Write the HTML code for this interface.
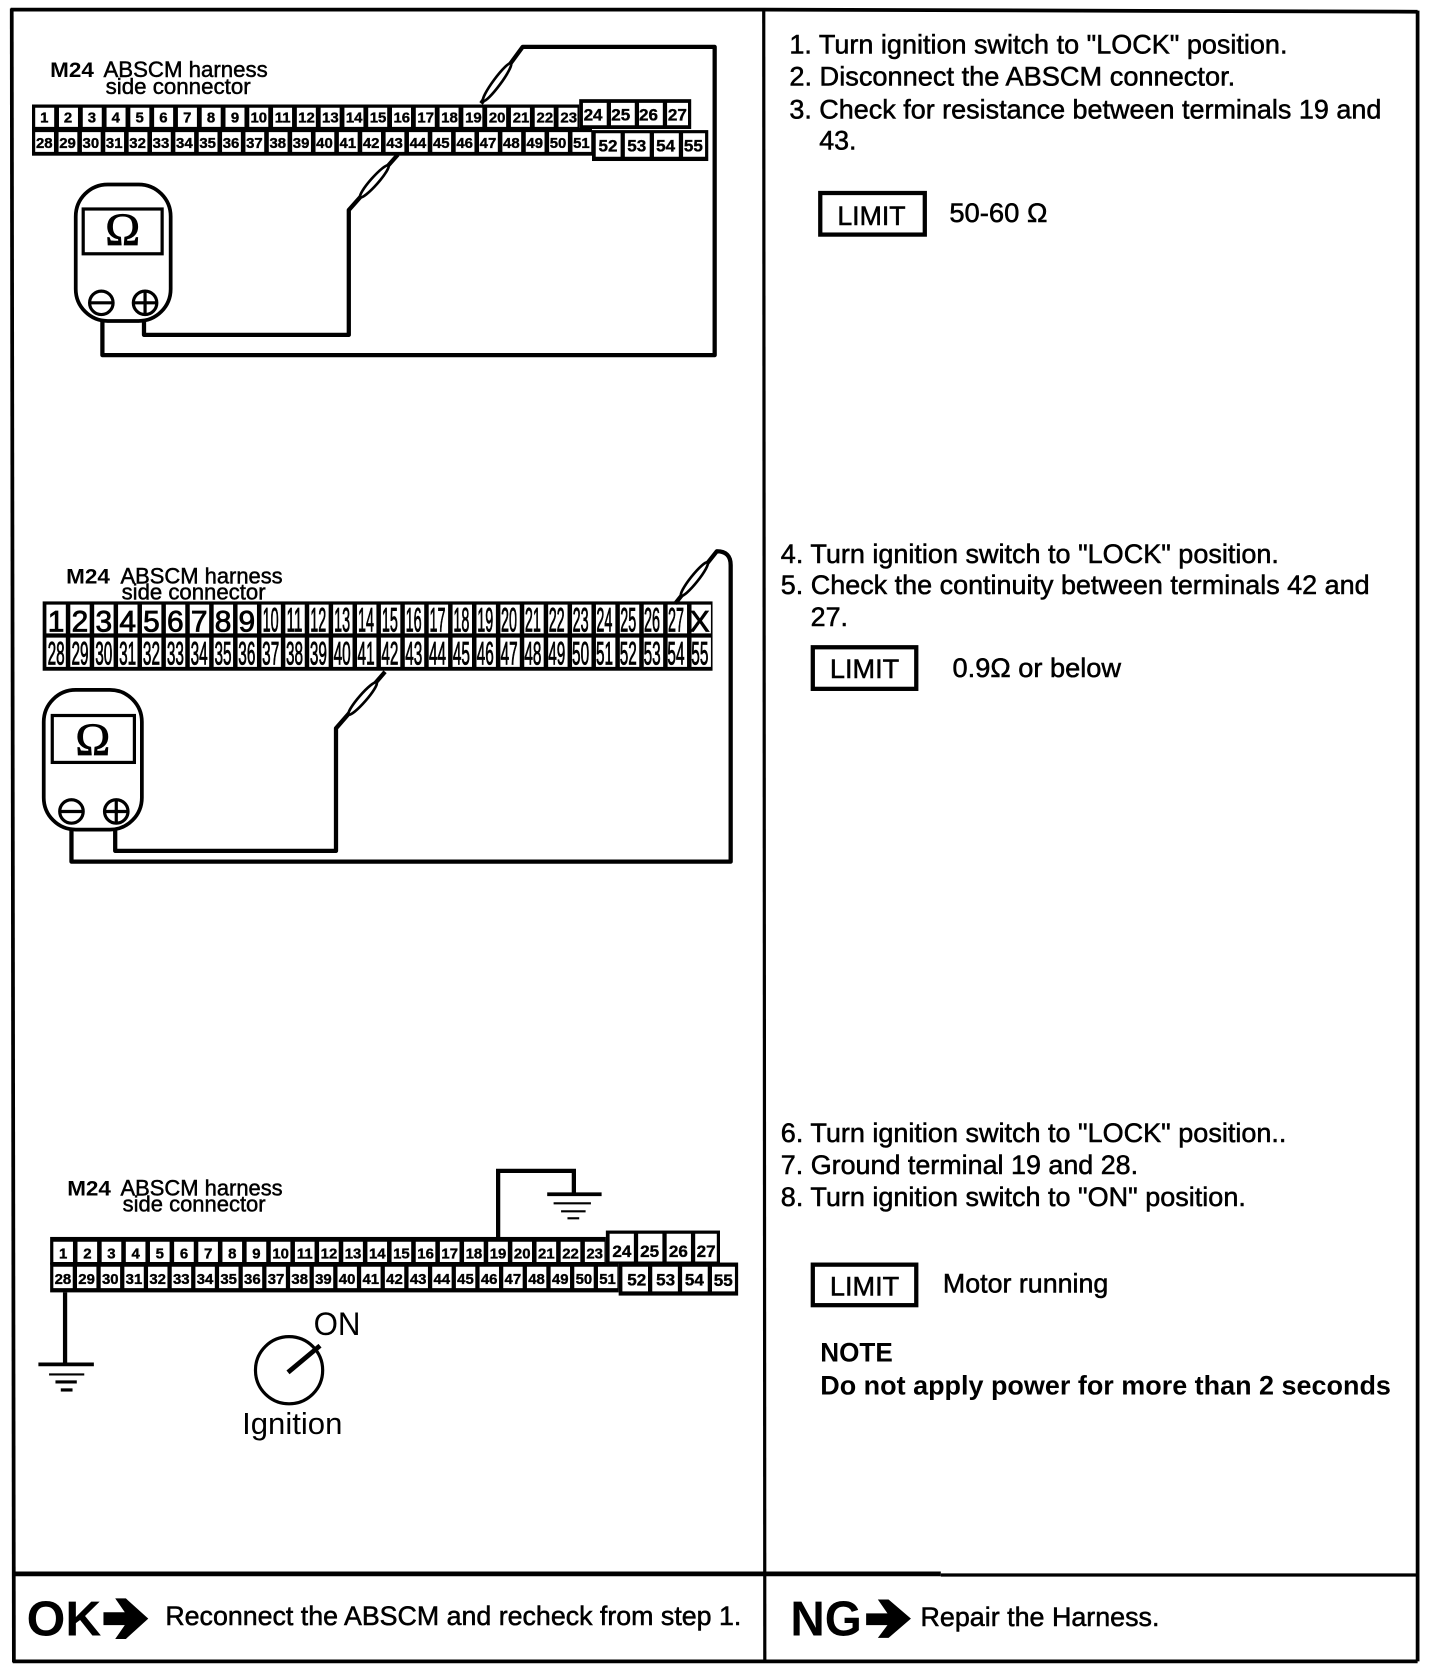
<!DOCTYPE html>
<html><head><meta charset="utf-8"><style>
html,body{margin:0;padding:0;background:#fff}
svg{display:block}
text{font-family:"Liberation Sans",sans-serif;fill:#000}
.a{font-size:14px;font-weight:bold;text-anchor:middle;stroke:#000;stroke-width:.35}
.b{font-size:16px;font-weight:bold;text-anchor:middle;stroke:#000;stroke-width:.35}
.c{font-size:32px;stroke:#000;stroke-width:.8}
.g{font-size:30px;stroke:#000;stroke-width:.8}
.d{font-size:28px;text-anchor:middle;stroke:#000;stroke-width:.8}
.t{font-size:25px;stroke:#000;stroke-width:.5}
.h{font-size:21px;stroke:#000;stroke-width:.45}
.w{fill:none;stroke:#000;stroke-width:4;stroke-linejoin:round}
.l{fill:#fff;stroke:#000;stroke-width:2.5}
.o{font-family:"Liberation Serif",serif;text-anchor:middle;font-size:44px;stroke:#000;stroke-width:.8}
</style></head><body>
<svg width="1440" height="1672" viewBox="0 0 1350 1568" preserveAspectRatio="none" xmlns="http://www.w3.org/2000/svg">
<rect width="1350" height="1568" fill="#fff"/>
<!-- frame -->
<g stroke="#000" fill="none">
<path d="M10 9 L716 9 L1329 11" stroke-width="3.5"/>
<path d="M11 8 L13 1559" stroke-width="3.5"/>
<path d="M1329 10 L1329 1558" stroke-width="3.5"/>
<path d="M716 9 L717 1558" stroke-width="3"/>
<path d="M12 1476 L882 1476" stroke-width="4.5"/>
<path d="M882 1477 L1329 1477" stroke-width="3"/>
<path d="M12 1558 L1329 1558" stroke-width="3.5"/>
</g>

<!-- connector 1 -->
<rect x="30" y="98" width="513" height="24" fill="#000"/>
<rect x="30" y="120" width="525" height="26" fill="#000"/>
<rect x="543" y="93" width="105" height="28" fill="#000"/>
<rect x="555" y="122" width="109" height="29" fill="#000"/>
<g fill="none" stroke="#fff">
<line x1="33" y1="110" x2="543" y2="110" stroke-width="18" stroke-dasharray="17.8 4.5"/>
<line x1="33" y1="133.2" x2="555" y2="133.2" stroke-width="18.5" stroke-dasharray="17.6 4.3"/>
<line x1="546.5" y1="107" x2="645" y2="107" stroke-width="21" stroke-dasharray="22.3 4"/>
<line x1="558.5" y1="136" x2="661" y2="136" stroke-width="22" stroke-dasharray="23.3 4"/>
</g>
<g>
<text x="41.5" y="115" class="a">1</text><text x="63.8" y="115" class="a">2</text><text x="86.2" y="115" class="a">3</text><text x="108.5" y="115" class="a">4</text><text x="130.9" y="115" class="a">5</text><text x="153.2" y="115" class="a">6</text><text x="175.6" y="115" class="a">7</text><text x="197.9" y="115" class="a">8</text><text x="220.3" y="115" class="a">9</text><text x="242.6" y="115" class="a">10</text><text x="265" y="115" class="a">11</text><text x="287.3" y="115" class="a">12</text><text x="309.7" y="115" class="a">13</text><text x="332" y="115" class="a">14</text><text x="354.4" y="115" class="a">15</text><text x="376.7" y="115" class="a">16</text><text x="399.1" y="115" class="a">17</text><text x="421.4" y="115" class="a">18</text><text x="443.8" y="115" class="a">19</text><text x="466.1" y="115" class="a">20</text><text x="488.5" y="115" class="a">21</text><text x="510.8" y="115" class="a">22</text><text x="533.2" y="115" class="a">23</text>
<text x="556" y="113" class="b">24</text><text x="582" y="113" class="b">25</text><text x="608" y="113" class="b">26</text><text x="635" y="113" class="b">27</text>
<text x="41.5" y="139" class="a">28</text><text x="63.3" y="139" class="a">29</text><text x="85.2" y="139" class="a">30</text><text x="107.1" y="139" class="a">31</text><text x="129" y="139" class="a">32</text><text x="150.9" y="139" class="a">33</text><text x="172.8" y="139" class="a">34</text><text x="194.7" y="139" class="a">35</text><text x="216.6" y="139" class="a">36</text><text x="238.5" y="139" class="a">37</text><text x="260.4" y="139" class="a">38</text><text x="282.3" y="139" class="a">39</text><text x="304.2" y="139" class="a">40</text><text x="326.1" y="139" class="a">41</text><text x="348" y="139" class="a">42</text><text x="369.9" y="139" class="a">43</text><text x="391.8" y="139" class="a">44</text><text x="413.7" y="139" class="a">45</text><text x="435.6" y="139" class="a">46</text><text x="457.5" y="139" class="a">47</text><text x="479.4" y="139" class="a">48</text><text x="501.3" y="139" class="a">49</text><text x="523.2" y="139" class="a">50</text><text x="545.1" y="139" class="a">51</text>
<text x="570" y="142" class="b">52</text><text x="597" y="142" class="b">53</text><text x="624" y="142" class="b">54</text><text x="650" y="142" class="b">55</text>
</g>
<text x="47" y="72" font-size="20" font-weight="bold" textLength="41" lengthAdjust="spacingAndGlyphs">M24</text>
<text x="97" y="72" class="h" textLength="154" lengthAdjust="spacingAndGlyphs">ABSCM harness</text>
<text x="99" y="88" class="h" textLength="136" lengthAdjust="spacingAndGlyphs">side connector</text>
<rect x="71" y="173" width="89" height="128" rx="30" fill="#fff" stroke="#000" stroke-width="3.5"/>
<rect x="78" y="196" width="74" height="42" fill="#fff" stroke="#000" stroke-width="3"/>
<text x="115" y="230" class="o">Ω</text>
<g fill="none" stroke="#000" stroke-width="3">
<circle cx="95" cy="284" r="11"/><path d="M85 284H105"/>
<circle cx="136" cy="284" r="11"/><path d="M125 284H147M136 273V295"/>
</g>
<path class="w" d="M135 301 V314 H327 V197 L373 145"/>
<path class="w" d="M96 301 V333 H670 V44 H490 L451 97"/>
<ellipse cx="351" cy="170" rx="20" ry="3.5" transform="rotate(-48.5 351 170)" class="l"/>
<ellipse cx="466" cy="77" rx="22" ry="3.5" transform="rotate(-53.6 466 77)" class="l"/>

<!-- connector 2 -->
<rect x="40" y="564" width="628" height="65" fill="#000"/>
<g fill="none" stroke="#fff">
<line x1="43.5" y1="580.5" x2="667" y2="580.5" stroke-width="27" stroke-dasharray="18.2 4.2"/>
<line x1="43.5" y1="611.7" x2="667" y2="611.7" stroke-width="27.5" stroke-dasharray="18.2 4.2"/>
</g>
<g>
<text x="52.6" y="592" class="d">1</text><text x="75" y="592" class="d">2</text><text x="97.3" y="592" class="d">3</text><text x="119.7" y="592" class="d">4</text><text x="142" y="592" class="d">5</text><text x="164.4" y="592" class="d">6</text><text x="186.7" y="592" class="d">7</text><text x="209.1" y="592" class="d">8</text><text x="231.4" y="592" class="d">9</text>
<text x="246.2" y="592" class="c" textLength="15" lengthAdjust="spacingAndGlyphs">10</text><text x="268.6" y="592" class="c" textLength="15" lengthAdjust="spacingAndGlyphs">11</text><text x="290.9" y="592" class="c" textLength="15" lengthAdjust="spacingAndGlyphs">12</text><text x="313.3" y="592" class="c" textLength="15" lengthAdjust="spacingAndGlyphs">13</text><text x="335.6" y="592" class="c" textLength="15" lengthAdjust="spacingAndGlyphs">14</text><text x="358" y="592" class="c" textLength="15" lengthAdjust="spacingAndGlyphs">15</text><text x="380.3" y="592" class="c" textLength="15" lengthAdjust="spacingAndGlyphs">16</text><text x="402.7" y="592" class="c" textLength="15" lengthAdjust="spacingAndGlyphs">17</text><text x="425" y="592" class="c" textLength="15" lengthAdjust="spacingAndGlyphs">18</text><text x="447.4" y="592" class="c" textLength="15" lengthAdjust="spacingAndGlyphs">19</text><text x="469.7" y="592" class="c" textLength="15" lengthAdjust="spacingAndGlyphs">20</text><text x="492.1" y="592" class="c" textLength="15" lengthAdjust="spacingAndGlyphs">21</text><text x="514.4" y="592" class="c" textLength="15" lengthAdjust="spacingAndGlyphs">22</text><text x="536.8" y="592" class="c" textLength="15" lengthAdjust="spacingAndGlyphs">23</text><text x="559.1" y="592" class="c" textLength="15" lengthAdjust="spacingAndGlyphs">24</text><text x="581.5" y="592" class="c" textLength="15" lengthAdjust="spacingAndGlyphs">25</text><text x="603.8" y="592" class="c" textLength="15" lengthAdjust="spacingAndGlyphs">26</text><text x="626.2" y="592" class="c" textLength="15" lengthAdjust="spacingAndGlyphs">27</text>
<text x="656" y="592" class="d">X</text>
<text x="44.6" y="623" class="g" textLength="16" lengthAdjust="spacingAndGlyphs">28</text><text x="67" y="623" class="g" textLength="16" lengthAdjust="spacingAndGlyphs">29</text><text x="89.3" y="623" class="g" textLength="16" lengthAdjust="spacingAndGlyphs">30</text><text x="111.7" y="623" class="g" textLength="16" lengthAdjust="spacingAndGlyphs">31</text><text x="134" y="623" class="g" textLength="16" lengthAdjust="spacingAndGlyphs">32</text><text x="156.4" y="623" class="g" textLength="16" lengthAdjust="spacingAndGlyphs">33</text><text x="178.7" y="623" class="g" textLength="16" lengthAdjust="spacingAndGlyphs">34</text><text x="201.1" y="623" class="g" textLength="16" lengthAdjust="spacingAndGlyphs">35</text><text x="223.4" y="623" class="g" textLength="16" lengthAdjust="spacingAndGlyphs">36</text><text x="245.8" y="623" class="g" textLength="16" lengthAdjust="spacingAndGlyphs">37</text><text x="268.1" y="623" class="g" textLength="16" lengthAdjust="spacingAndGlyphs">38</text><text x="290.5" y="623" class="g" textLength="16" lengthAdjust="spacingAndGlyphs">39</text><text x="312.8" y="623" class="g" textLength="16" lengthAdjust="spacingAndGlyphs">40</text><text x="335.2" y="623" class="g" textLength="16" lengthAdjust="spacingAndGlyphs">41</text><text x="357.5" y="623" class="g" textLength="16" lengthAdjust="spacingAndGlyphs">42</text><text x="379.9" y="623" class="g" textLength="16" lengthAdjust="spacingAndGlyphs">43</text><text x="402.2" y="623" class="g" textLength="16" lengthAdjust="spacingAndGlyphs">44</text><text x="424.6" y="623" class="g" textLength="16" lengthAdjust="spacingAndGlyphs">45</text><text x="446.9" y="623" class="g" textLength="16" lengthAdjust="spacingAndGlyphs">46</text><text x="469.3" y="623" class="g" textLength="16" lengthAdjust="spacingAndGlyphs">47</text><text x="491.6" y="623" class="g" textLength="16" lengthAdjust="spacingAndGlyphs">48</text><text x="514" y="623" class="g" textLength="16" lengthAdjust="spacingAndGlyphs">49</text><text x="536.3" y="623" class="g" textLength="16" lengthAdjust="spacingAndGlyphs">50</text><text x="558.7" y="623" class="g" textLength="16" lengthAdjust="spacingAndGlyphs">51</text><text x="581" y="623" class="g" textLength="16" lengthAdjust="spacingAndGlyphs">52</text><text x="603.4" y="623" class="g" textLength="16" lengthAdjust="spacingAndGlyphs">53</text><text x="625.7" y="623" class="g" textLength="16" lengthAdjust="spacingAndGlyphs">54</text><text x="648.1" y="623" class="g" textLength="16" lengthAdjust="spacingAndGlyphs">55</text>
</g>
<text x="62" y="547" font-size="20" font-weight="bold" textLength="41" lengthAdjust="spacingAndGlyphs">M24</text>
<text x="113" y="547" class="h" textLength="152" lengthAdjust="spacingAndGlyphs">ABSCM harness</text>
<text x="114" y="562" class="h" textLength="135" lengthAdjust="spacingAndGlyphs">side connector</text>
<rect x="41" y="647" width="92" height="131" rx="30" fill="#fff" stroke="#000" stroke-width="3.5"/>
<rect x="49" y="671" width="77" height="44" fill="#fff" stroke="#000" stroke-width="3"/>
<text x="87" y="708" class="o">Ω</text>
<g fill="none" stroke="#000" stroke-width="3">
<circle cx="67" cy="761" r="11"/><path d="M57 761H77"/>
<circle cx="109" cy="761" r="11"/><path d="M98 761H120M109 750V772"/>
</g>
<path class="w" d="M108 778 V798 H315 V683 L361 630"/>
<path class="w" d="M67 778 V808 H685 V530 Q685 517 672 517 L633 566"/>
<ellipse cx="340" cy="655" rx="20" ry="3.5" transform="rotate(-49 340 655)" class="l"/>
<ellipse cx="651" cy="543" rx="20" ry="3.5" transform="rotate(-51.5 651 543)" class="l"/>

<!-- connector 3 -->
<rect x="47" y="1160" width="521" height="26" fill="#000"/>
<rect x="47" y="1184" width="533" height="28" fill="#000"/>
<rect x="568" y="1154" width="107" height="31" fill="#000"/>
<rect x="580" y="1184" width="112" height="31" fill="#000"/>
<g fill="none" stroke="#fff">
<line x1="50" y1="1174" x2="568" y2="1174" stroke-width="19" stroke-dasharray="18.4 4.25"/>
<line x1="50" y1="1198" x2="580" y2="1198" stroke-width="20" stroke-dasharray="18.2 4"/>
<line x1="571.5" y1="1170" x2="672" y2="1170" stroke-width="26" stroke-dasharray="22.75 4"/>
<line x1="583.5" y1="1199.5" x2="689" y2="1199.5" stroke-width="23" stroke-dasharray="24 4"/>
</g>
<g>
<text x="59.2" y="1180" class="a">1</text><text x="81.9" y="1180" class="a">2</text><text x="104.5" y="1180" class="a">3</text><text x="127.2" y="1180" class="a">4</text><text x="149.8" y="1180" class="a">5</text><text x="172.5" y="1180" class="a">6</text><text x="195.1" y="1180" class="a">7</text><text x="217.8" y="1180" class="a">8</text><text x="240.4" y="1180" class="a">9</text><text x="263.1" y="1180" class="a">10</text><text x="285.7" y="1180" class="a">11</text><text x="308.4" y="1180" class="a">12</text><text x="331" y="1180" class="a">13</text><text x="353.7" y="1180" class="a">14</text><text x="376.3" y="1180" class="a">15</text><text x="399" y="1180" class="a">16</text><text x="421.6" y="1180" class="a">17</text><text x="444.3" y="1180" class="a">18</text><text x="466.9" y="1180" class="a">19</text><text x="489.6" y="1180" class="a">20</text><text x="512.2" y="1180" class="a">21</text><text x="534.9" y="1180" class="a">22</text><text x="557.5" y="1180" class="a">23</text>
<text x="583" y="1179" class="b">24</text><text x="609" y="1179" class="b">25</text><text x="636" y="1179" class="b">26</text><text x="662" y="1179" class="b">27</text>
<text x="59" y="1204" class="a">28</text><text x="81.2" y="1204" class="a">29</text><text x="103.4" y="1204" class="a">30</text><text x="125.6" y="1204" class="a">31</text><text x="147.8" y="1204" class="a">32</text><text x="170" y="1204" class="a">33</text><text x="192.2" y="1204" class="a">34</text><text x="214.4" y="1204" class="a">35</text><text x="236.6" y="1204" class="a">36</text><text x="258.8" y="1204" class="a">37</text><text x="281" y="1204" class="a">38</text><text x="303.2" y="1204" class="a">39</text><text x="325.4" y="1204" class="a">40</text><text x="347.6" y="1204" class="a">41</text><text x="369.8" y="1204" class="a">42</text><text x="392" y="1204" class="a">43</text><text x="414.2" y="1204" class="a">44</text><text x="436.4" y="1204" class="a">45</text><text x="458.6" y="1204" class="a">46</text><text x="480.8" y="1204" class="a">47</text><text x="503" y="1204" class="a">48</text><text x="525.2" y="1204" class="a">49</text><text x="547.4" y="1204" class="a">50</text><text x="569.6" y="1204" class="a">51</text>
<text x="597" y="1205.5" class="b">52</text><text x="624" y="1205.5" class="b">53</text><text x="651" y="1205.5" class="b">54</text><text x="678" y="1206" class="b">55</text>
</g>
<text x="63" y="1121" font-size="20" font-weight="bold" textLength="41" lengthAdjust="spacingAndGlyphs">M24</text>
<text x="113" y="1121" class="h" textLength="152" lengthAdjust="spacingAndGlyphs">ABSCM harness</text>
<text x="115" y="1136" class="h" textLength="134" lengthAdjust="spacingAndGlyphs">side connector</text>
<g stroke="#000" fill="none">
<path d="M467 1160 V1098 H538 V1120" stroke-width="4"/>
<path d="M513 1120 H564" stroke-width="3.5"/>
<path d="M519 1128.5 H554" stroke-width="2"/>
<path d="M526 1136 H549" stroke-width="2"/>
<path d="M532 1142.5 H543" stroke-width="2"/>
<path d="M61 1212 V1279" stroke-width="4"/>
<path d="M36 1279.5 H88" stroke-width="3.5"/>
<path d="M46 1289 H79" stroke-width="2"/>
<path d="M52 1296 H72" stroke-width="3"/>
<path d="M57 1303.5 H68" stroke-width="3"/>
<circle cx="271" cy="1285" r="31.5" stroke-width="3"/>
<path d="M270 1287 L300 1262" stroke-width="4.5"/>
</g>
<text x="294" y="1252" font-size="30" textLength="44" lengthAdjust="spacingAndGlyphs">ON</text>
<text x="227" y="1345" font-size="29" textLength="94" lengthAdjust="spacingAndGlyphs">Ignition</text>

<!-- right column -->
<text x="740" y="50" class="t" textLength="467" lengthAdjust="spacingAndGlyphs">1. Turn ignition switch to "LOCK" position.</text>
<text x="740" y="80" class="t" textLength="418" lengthAdjust="spacingAndGlyphs">2. Disconnect the ABSCM connector.</text>
<text x="740" y="111" class="t" textLength="555" lengthAdjust="spacingAndGlyphs">3. Check for resistance between terminals 19 and</text>
<text x="768" y="140" class="t" textLength="35" lengthAdjust="spacingAndGlyphs">43.</text>
<rect x="769" y="181" width="98" height="39" fill="none" stroke="#000" stroke-width="4"/>
<text x="785" y="211" class="t" textLength="64" lengthAdjust="spacingAndGlyphs">LIMIT</text>
<text x="890" y="208" class="t" textLength="92" lengthAdjust="spacingAndGlyphs">50-60 Ω</text>

<text x="732" y="528" class="t" textLength="467" lengthAdjust="spacingAndGlyphs">4. Turn ignition switch to "LOCK" position.</text>
<text x="732" y="557" class="t" textLength="552" lengthAdjust="spacingAndGlyphs">5. Check the continuity between terminals 42 and</text>
<text x="760" y="587" class="t" textLength="35" lengthAdjust="spacingAndGlyphs">27.</text>
<rect x="762" y="607" width="97" height="39" fill="none" stroke="#000" stroke-width="4"/>
<text x="778" y="636" class="t" textLength="65" lengthAdjust="spacingAndGlyphs">LIMIT</text>
<text x="893" y="635" class="t" textLength="158" lengthAdjust="spacingAndGlyphs">0.9Ω or below</text>

<text x="732" y="1071" class="t" textLength="474" lengthAdjust="spacingAndGlyphs">6. Turn ignition switch to "LOCK" position..</text>
<text x="732" y="1101" class="t" textLength="335" lengthAdjust="spacingAndGlyphs">7. Ground terminal 19 and 28.</text>
<text x="732" y="1131" class="t" textLength="436" lengthAdjust="spacingAndGlyphs">8. Turn ignition switch to "ON" position.</text>
<rect x="762" y="1186" width="97" height="38" fill="none" stroke="#000" stroke-width="4"/>
<text x="778" y="1215" class="t" textLength="65" lengthAdjust="spacingAndGlyphs">LIMIT</text>
<text x="884" y="1212" class="t" textLength="155" lengthAdjust="spacingAndGlyphs">Motor running</text>
<text x="769" y="1277" font-size="25" font-weight="bold" textLength="68" lengthAdjust="spacingAndGlyphs">NOTE</text>
<text x="769" y="1308" font-size="25" font-weight="bold" textLength="535" lengthAdjust="spacingAndGlyphs">Do not apply power for more than 2 seconds</text>

<!-- footer -->
<text x="25" y="1534" font-size="46" font-weight="bold" textLength="70" lengthAdjust="spacingAndGlyphs">OK</text>
<path d="M97 1512 H117 L108 1499 H118 L139 1518 L118 1537 H108 L117 1524 H97Z" fill="#000"/>
<text x="155" y="1524" class="t" textLength="540" lengthAdjust="spacingAndGlyphs">Reconnect the ABSCM and recheck from step 1.</text>
<text x="741" y="1534" font-size="46" font-weight="bold" textLength="67" lengthAdjust="spacingAndGlyphs">NG</text>
<path d="M812 1513 H832 L823 1500 H833 L854 1518 L833 1536 H823 L832 1524 H812Z" fill="#000"/>
<text x="863" y="1525" class="t" textLength="224" lengthAdjust="spacingAndGlyphs">Repair the Harness.</text>
</svg>
</body></html>
